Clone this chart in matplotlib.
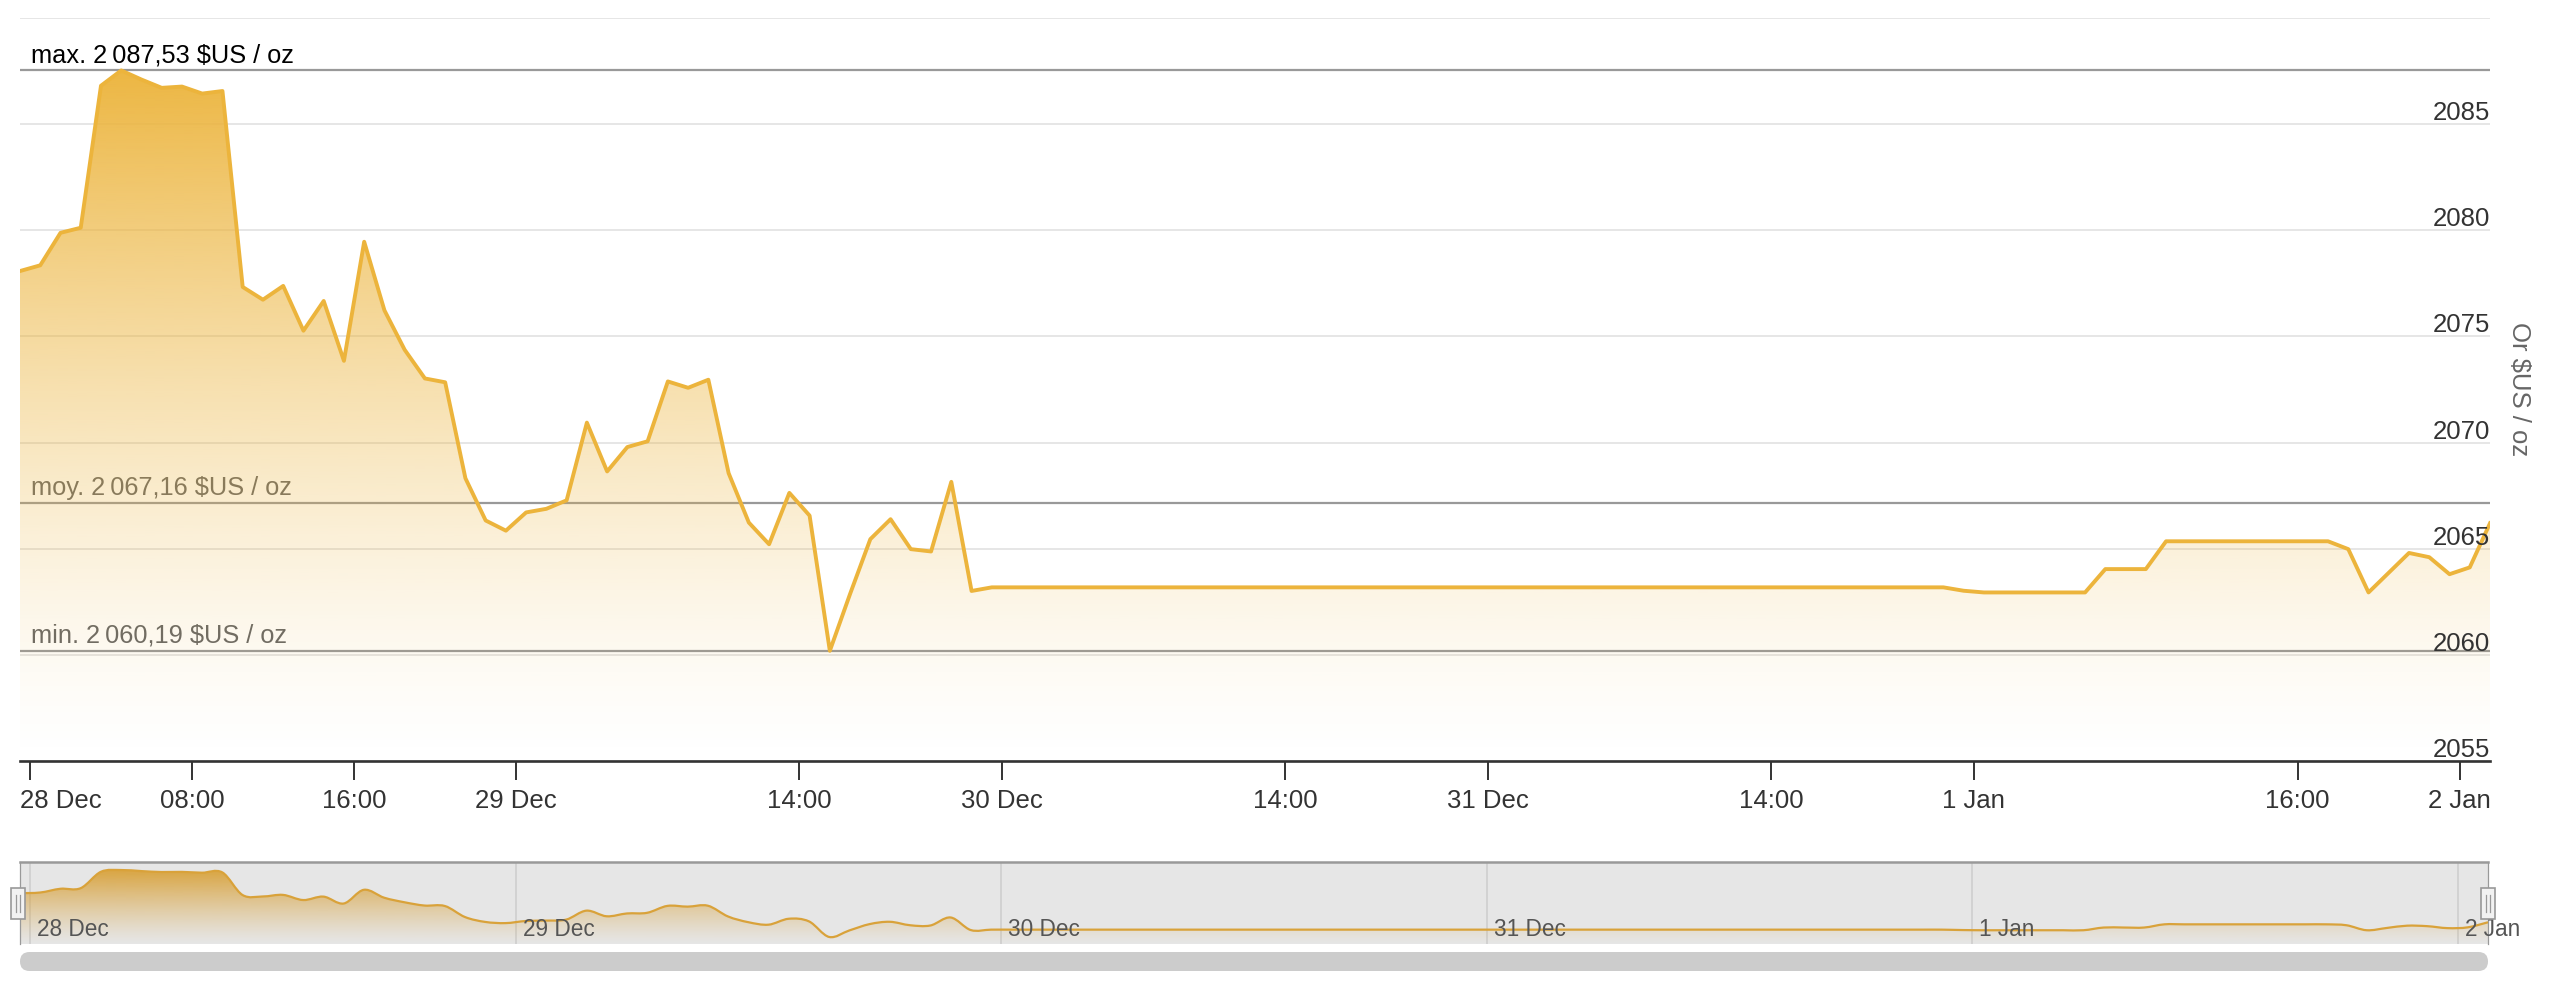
import numpy as np
import matplotlib
matplotlib.use('Agg')
import matplotlib.pyplot as plt
import matplotlib.colors as mcolors
from matplotlib.path import Path
from matplotlib.patches import PathPatch, FancyBboxPatch, Rectangle
from matplotlib.transforms import ScaledTranslation, blended_transform_factory

plt.rcParams['font.family'] = ['Liberation Sans', 'DejaVu Sans']

# ---------------- data ----------------
# hourly gold price ($US / oz); first point at 27 Dec 23:30, one point per hour
start_hour = -0.5
prices = np.array(
    [2078.08, 2078.35, 2079.88, 2080.12, 2086.81, 2087.53, 2087.10, 2086.71, 2086.77, 2086.44, 2086.56,
     2077.33, 2076.73, 2077.38, 2075.27, 2076.67, 2073.85, 2079.46, 2076.23, 2074.37, 2073.02,
     2072.84, 2068.32, 2066.33, 2065.85, 2066.71, 2066.88, 2067.28, 2070.94, 2068.64, 2069.79,
     2070.06, 2072.88, 2072.58, 2072.96, 2068.56, 2066.23, 2065.21, 2067.63, 2066.56, 2060.19,
     2062.87, 2065.45, 2066.39, 2064.98, 2064.87, 2068.15, 2063.01, 2063.18]
    + [2063.18] * 47
    + [2063.02] + [2062.94] * 6 + [2064.04] * 3 + [2065.35] * 9
    + [2064.98, 2062.94, 2063.87, 2064.80, 2064.60, 2063.80, 2064.12, 2066.20])
hours = start_hour + np.arange(len(prices))

stat_max = 2087.53
stat_mean = 2067.16
stat_min = 2060.19

ytick_vals = [2055, 2060, 2065, 2070, 2075, 2080, 2085, 2090]
ytick_labels = [2055, 2060, 2065, 2070, 2075, 2080, 2085]
xtick_hours = [0, 8, 16, 24, 38, 48, 62, 72, 86, 96, 112, 120]
xtick_labels = ['28 Dec', '08:00', '16:00', '29 Dec', '14:00', '30 Dec', '14:00',
                '31 Dec', '14:00', '1 Jan', '16:00', '2 Jan']
nav_day_hours = [0, 24, 48, 72, 96, 120]
nav_day_labels = ['28 Dec', '29 Dec', '30 Dec', '31 Dec', '1 Jan', '2 Jan']
y_title = 'Or $US / oz'
unit = '$US / oz'

GOLD = '#ECB43C'
NAV_GOLD = '#D9A23A'


def fr(v):
    s = f'{v:,.2f}'
    return s.replace(',', 'X').replace('.', ',').replace('X', '\u2009')


# ---------------- figure ----------------
W, H = 2560, 1000
fig = plt.figure(figsize=(W / 100, H / 100), dpi=100)
fig.patch.set_facecolor('white')


def fx(px):
    return px / W


def fy(py):
    return 1 - py / H


ax = fig.add_axes([fx(20), fy(761), fx(2490) - fx(20), fy(18) - fy(761)])
ax.set_facecolor('white')
for k, s in ax.spines.items():
    s.set_visible(k == 'bottom')
ax.spines['bottom'].set_color('#333333')
ax.spines['bottom'].set_linewidth(1.9)
ax.spines['bottom'].set_zorder(6)

ax.set_yticks(ytick_vals)
ax.yaxis.grid(True, color='#e6e6e6', lw=1.4, zorder=0)
ax.tick_params(axis='y', length=0, labelleft=False, labelright=False)
ax.set_axisbelow(True)

ax.set_xticks(xtick_hours)
ax.set_xticklabels(xtick_labels)
ax.tick_params(axis='x', direction='out', length=13.7, width=1.4, color='#333333',
               labelsize=18.5, labelcolor='#333333', pad=6.5)
lbl0 = ax.get_xticklabels()[0]
lbl0.set_horizontalalignment('left')
lbl0.set_transform(lbl0.get_transform() + ScaledTranslation(-10 / 100, 0, fig.dpi_scale_trans))

# gradient area
poly = ax.fill_between(hours, prices, 2055, color='none', lw=0)
clip_path = poly.get_paths()[0]
t = np.linspace(0, 1, 512)[:, None]
grad = np.zeros((512, 1, 4))
grad[..., :3] = mcolors.to_rgb(GOLD)
grad[..., 3] = 0.97 * (1 - t) ** 1.4
im = ax.imshow(grad, extent=[hours[0], hours[-1], 2055, prices.max()], aspect='auto',
               origin='upper', zorder=2, interpolation='bilinear')
patch = PathPatch(clip_path, transform=ax.transData, facecolor='none', edgecolor='none')
ax.add_patch(patch)
im.set_clip_path(patch)

ax.plot(hours, prices, color=GOLD, lw=2.8, zorder=4, solid_joinstyle='round')

# stat lines & labels (drawn beneath the area fill)
btrans = blended_transform_factory(ax.transAxes, ax.transData)
for name, v, col in [('max.', stat_max, '#000000'), ('moy.', stat_mean, '#666666'),
                     ('min.', stat_min, '#666666')]:
    ax.axhline(v, color='#999999', lw=1.6, zorder=1.5)
    ax.annotate(f'{name} {fr(v)} {unit}', xy=(0, v), xycoords=btrans, xytext=(8, 6),
                textcoords='offset points', ha='left', va='baseline', fontsize=18.3,
                color=col, zorder=1.6)

# y labels above gridlines on the right
for v in ytick_labels:
    ax.text(1.0, v, str(v), transform=btrans + ScaledTranslation(0, 4 / 100, fig.dpi_scale_trans),
            ha='right', va='baseline', fontsize=18.5, color='#333333', zorder=5)

ax.set_xlim(hours[0], hours[-1])
ax.set_ylim(2055, 2090)

fig.text(fx(2519), fy(389), y_title, rotation=270, ha='center', va='center',
         fontsize=18.5, color='#666666')

# ---------------- navigator ----------------
nav = fig.add_axes([fx(20), fy(944), fx(2488) - fx(20), fy(862) - fy(944)])
nav.set_facecolor('#e6e6e6')
for k, s in nav.spines.items():
    s.set_visible(k in ('top', 'left', 'right'))
    s.set_color('#999999')
nav.spines['top'].set_linewidth(1.8)
nav.spines['left'].set_linewidth(0.9)
nav.spines['right'].set_linewidth(0.9)
nav.set_xlim(hours[0], hours[-1])
span = prices.max() - prices.min()
nav.set_ylim(prices.min() - span * 0.105, prices.max() + span * 0.12)
nav.set_xticks(nav_day_hours)
nav.set_yticks([])
nav.xaxis.grid(True, color='#cccccc', lw=1.1, zorder=0)
nav.tick_params(axis='x', length=0, labelbottom=False)
nav.set_axisbelow(True)


def smooth_path(x, y):
    verts = [(x[0], y[0])]
    codes = [Path.MOVETO]
    n = len(x)
    for i in range(n - 1):
        x0, y0 = (x[i - 1], y[i - 1]) if i > 0 else (x[i], y[i])
        x3, y3 = (x[i + 2], y[i + 2]) if i + 2 < n else (x[i + 1], y[i + 1])
        c1 = (x[i] + (x[i + 1] - x0) / 6, y[i] + (y[i + 1] - y0) / 6)
        c2 = (x[i + 1] - (x3 - x[i]) / 6, y[i + 1] - (y3 - y[i]) / 6)
        verts += [c1, c2, (x[i + 1], y[i + 1])]
        codes += [Path.CURVE4] * 3
    return verts, codes


verts, codes = smooth_path(hours, prices)
ybot = nav.get_ylim()[0]
fill_verts = verts + [(hours[-1], ybot), (hours[0], ybot), verts[0]]
fill_codes = codes + [Path.LINETO, Path.LINETO, Path.CLOSEPOLY]
nav_fill = PathPatch(Path(fill_verts, fill_codes), transform=nav.transData,
                     facecolor='none', edgecolor='none')
nav.add_patch(nav_fill)
ngrad = np.zeros((256, 1, 4))
tt = np.linspace(0, 1, 256)[:, None]
ngrad[..., :3] = mcolors.to_rgb(NAV_GOLD)
ngrad[..., 3] = 0.95 * (1 - tt) ** 1.2
nim = nav.imshow(ngrad, extent=[hours[0], hours[-1], ybot, prices.max()], aspect='auto',
                 origin='upper', zorder=2, interpolation='bilinear')
nim.set_clip_path(nav_fill)
nav.add_patch(PathPatch(Path(verts, codes), transform=nav.transData, facecolor='none',
                        edgecolor=NAV_GOLD, lw=1.6, zorder=3))
nav.set_xlim(hours[0], hours[-1])
nav.set_ylim(ybot, prices.max() + span * 0.12)

ntrans = blended_transform_factory(nav.transData, nav.transAxes)
for h, lab in zip(nav_day_hours, nav_day_labels):
    nav.text(h, 0.098, lab, transform=ntrans + ScaledTranslation(7 / 100, 0, fig.dpi_scale_trans),
             ha='left', va='baseline', fontsize=16.3, color='#555555', zorder=4, clip_on=False)

# ---------------- decorations: handles and scrollbar ----------------
deco = fig.add_axes([0, 0, 1, 1], zorder=10)
deco.set_xlim(0, W)
deco.set_ylim(H, 0)
deco.axis('off')
deco.patch.set_alpha(0)
deco.add_patch(FancyBboxPatch((20, 952), 2468, 19, boxstyle='round,pad=0,rounding_size=9.5',
                              fc='#cccccc', ec='none'))
for cx in (18, 2488):
    deco.add_patch(Rectangle((cx - 7, 888), 14, 31, fc='#f2f2f2', ec='#999999', lw=1.2))
    for dx in (-1.7, 1.7):
        deco.plot([cx + dx, cx + dx], [895, 912], color='#999999', lw=0.9)

fig.savefig('out.png', dpi=100, facecolor='white')
